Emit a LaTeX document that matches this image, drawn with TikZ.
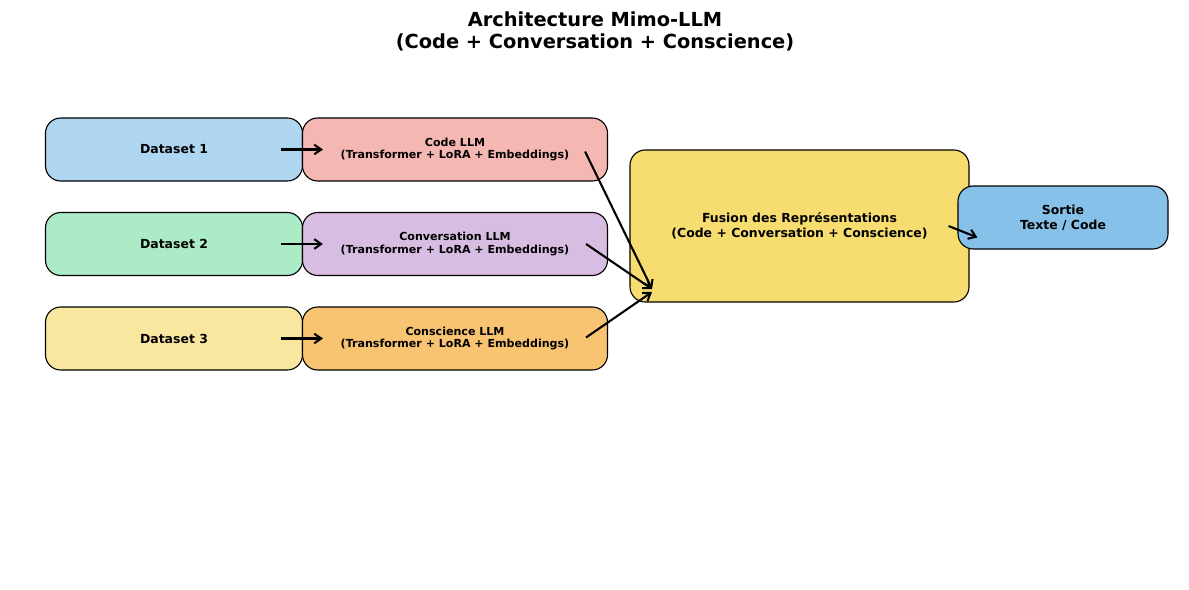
\documentclass[tikz,border=0pt]{standalone}
\usepackage{fontspec}
\setmainfont{DejaVu Sans}
\usetikzlibrary{arrows.meta}
\definecolor{dsblue}{HTML}{AED6F1}
\definecolor{dsgreen}{HTML}{ABEBC6}
\definecolor{dsyellow}{HTML}{F9E79F}
\definecolor{llmred}{HTML}{F5B7B1}
\definecolor{llmviolet}{HTML}{D7BDE2}
\definecolor{llmorange}{HTML}{F8C471}
\definecolor{fusionyellow}{HTML}{F7DC6F}
\definecolor{outblue}{HTML}{85C1E9}
\begin{document}
\begin{tikzpicture}[
x=0.254mm, y=-0.254mm,
box/.style={draw, rounded corners=11pt, line width=0.8pt, inner sep=0pt, align=center, font=\bfseries},
dataset/.style={box, minimum width=257*0.254mm, minimum height=63*0.254mm, font=\bfseries\fontsize{9}{10.8}\selectfont},
llm/.style={box, minimum width=305*0.254mm, minimum height=63*0.254mm, font=\bfseries\fontsize{8}{9}\selectfont},
arr/.style={line width=1.5pt, -{Straight Barb[length=5pt, width=7pt, line width=1.5pt]}}
]
\useasboundingbox (0,0) rectangle (1189,590);

% titre
\node[align=center, font=\bfseries\fontsize{14}{16}\selectfont] (title) at (595,31)
  {Architecture Mimo-LLM\\(Code + Conversation + Conscience)};

% datasets
\node[dataset, fill=dsblue] (d1) at (174,149.5) {Dataset 1};
\node[dataset, fill=dsgreen] (d2) at (174,244) {Dataset 2};
\node[dataset, fill=dsyellow] (d3) at (174,338.5) {Dataset 3};

% modeles
\node[llm, fill=llmred] (l1) at (455,149.5) {Code LLM\\(Transformer + LoRA + Embeddings)};
\node[llm, fill=llmviolet] (l2) at (455,244) {Conversation LLM\\(Transformer + LoRA + Embeddings)};
\node[llm, fill=llmorange] (l3) at (455,338.5) {Conscience LLM\\(Transformer + LoRA + Embeddings)};

% fusion et sortie
\node[box, fill=fusionyellow, minimum width=339*0.254mm, minimum height=152*0.254mm,
  font=\bfseries\fontsize{9}{10.8}\selectfont] (fusion) at (799.5,226)
  {Fusion des Représentations\\(Code + Conversation + Conscience)};
\node[box, fill=outblue, minimum width=210*0.254mm, minimum height=63*0.254mm,
  font=\bfseries\fontsize{9}{10.8}\selectfont] (out) at (1063,217.5)
  {Sortie\\Texte / Code};

% fleches
\draw[arr] ([xshift=-22*0.254mm]d1.east) -- ([xshift=21*0.254mm]l1.west);
\draw[arr] ([xshift=-22*0.254mm]d2.east) -- ([xshift=21*0.254mm]l2.west);
\draw[arr] ([xshift=-22*0.254mm]d3.east) -- ([xshift=21*0.254mm]l3.west);
\coordinate (in1) at (652,289);
\coordinate (in3) at (652,292);
\draw[arr] ([xshift=-23*0.254mm, yshift=-2*0.254mm]l1.east) -- (in1);
\draw[arr] ([xshift=-22*0.254mm]l2.east) -- (in1);
\draw[arr] ([xshift=-22*0.254mm, yshift=1*0.254mm]l3.east) -- (in3);
\draw[arr] ([xshift=-21*0.254mm]fusion.east) -- ([xshift=20*0.254mm, yshift=-20*0.254mm]out.west);
\end{tikzpicture}
\end{document}
